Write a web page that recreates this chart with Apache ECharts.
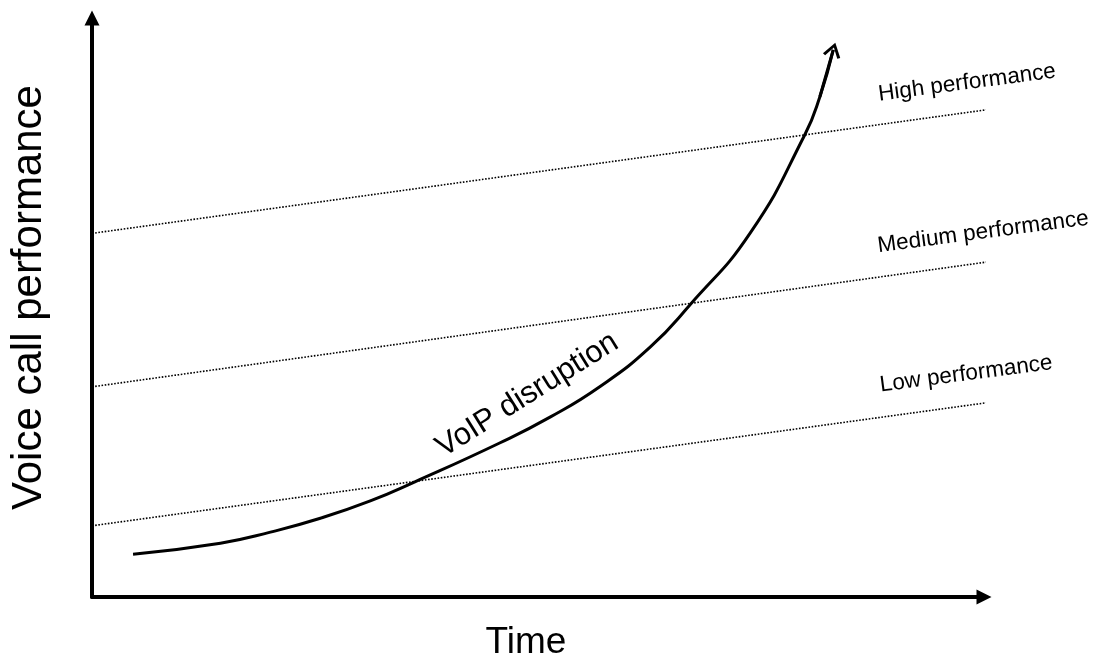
<!DOCTYPE html>
<html>
<head>
<meta charset="utf-8">
<script src="https://cdn.jsdelivr.net/npm/echarts@6/dist/echarts.min.js"></script>
<style>
  html, body { margin: 0; padding: 0; background: #fff; }
  #main { width: 1106px; height: 656px; }
</style>
</head>
<body>
<div id="main"></div>
<script>
// VoIP disruption curve (time, performance)
var curveX = [4.6, 14.4, 20.0, 25.6, 31.2, 36.2, 45.7, 51.4, 57.0, 62.6, 67.0, 73.8, 79.9, 81.6, 83.1];
var curveY = [7.4, 9.3, 11.2, 13.6, 16.6, 19.9, 26.6, 31.1, 36.4, 43.2, 50.4, 62.9, 79.8, 86.4, 94.5];

// performance bands: value at start and end of time range
var bandNames = ['High performance', 'Medium performance', 'Low performance'];
var bandX = [0, 101];
var bandStart = [62.8, 36.3, 12.3];
var bandEnd = [84.3, 58.0, 33.7];

var font = "'Liberation Sans', Arial, sans-serif";

var curve = [];
for (var i = 0; i < curveX.length; i++) {
    curve.push([curveX[i], curveY[i]]);
}
var n = curve.length;

// label spots for the band texts
var bandLabelAt = [[98.1, 88.8], [99.9, 63.0], [98.0, 38.5]];

var series = [];
for (var b = 0; b < bandNames.length; b++) {
    series.push({
        name: bandNames[b],
        type: 'line',
        clip: false,
        silent: true,
        symbol: 'none',
        data: [[bandX[0], bandStart[b]], [bandX[1], bandEnd[b]]],
        lineStyle: { color: '#000', width: 1.6, type: 'dotted' },
        markPoint: {
            symbol: 'circle',
            symbolSize: 0,
            silent: true,
            data: [{ coord: bandLabelAt[b] }],
            label: {
                show: true,
                position: 'inside',
                rotate: 7.5,
                formatter: bandNames[b],
                color: '#000',
                fontFamily: font,
                fontSize: 22.5
            }
        }
    });
}

series.push({
    name: 'VoIP disruption',
    type: 'line',
    smooth: 0.5,
    clip: false,
    silent: true,
    symbol: 'none',
    data: curve,
    lineStyle: { color: '#000', width: 3 },
    markLine: {
        silent: true,
        symbol: ['none', 'path://M5,0 L10,9 L8.5,10 L5,3.4 L1.5,10 L0,9 Z'],
        symbolSize: [18, 15],
        label: { show: false },
        lineStyle: { color: '#000', width: 3, type: 'solid' },
        data: [[{ coord: curve[n - 2] }, { coord: curve[n - 1] }]]
    },
    markPoint: {
        symbol: 'circle',
        symbolSize: 0,
        silent: true,
        data: [{ coord: [48.8, 34.9] }],
        label: {
            show: true,
            position: 'inside',
            rotate: 32,
            formatter: 'VoIP disruption',
            color: '#000',
            fontFamily: font,
            fontSize: 31
        }
    }
});

var myChart = echarts.init(document.getElementById('main'));

var option = {
    animation: false,
    backgroundColor: '#fff',
    grid: { left: 92, right: 122, top: 18, bottom: 59, outerBoundsMode: 'none', containLabel: false },
    xAxis: {
        type: 'value',
        min: 0,
        max: 100,
        name: 'Time',
        nameLocation: 'middle',
        nameGap: 27,
        nameTextStyle: { color: '#000', fontFamily: font, fontSize: 37, padding: [0, 24, 0, 0] },
        axisLine: {
            show: true,
            onZero: false,
            symbol: ['none', 'triangle'],
            symbolSize: [15, 15],
            lineStyle: { color: '#000', width: 4 }
        },
        axisTick: { show: false },
        axisLabel: { show: false },
        splitLine: { show: false }
    },
    yAxis: {
        type: 'value',
        min: 0,
        max: 100,
        name: 'Voice call performance',
        nameLocation: 'middle',
        nameRotate: 90,
        nameGap: 42,
        nameTextStyle: { color: '#000', fontFamily: font, fontSize: 42, padding: [0, 0, 0, 20] },
        axisLine: {
            show: true,
            onZero: false,
            symbol: ['none', 'triangle'],
            symbolSize: [15, 15],
            lineStyle: { color: '#000', width: 4 }
        },
        axisTick: { show: false },
        axisLabel: { show: false },
        splitLine: { show: false }
    },
    series: series
};

myChart.setOption(option);
</script>
</body>
</html>
